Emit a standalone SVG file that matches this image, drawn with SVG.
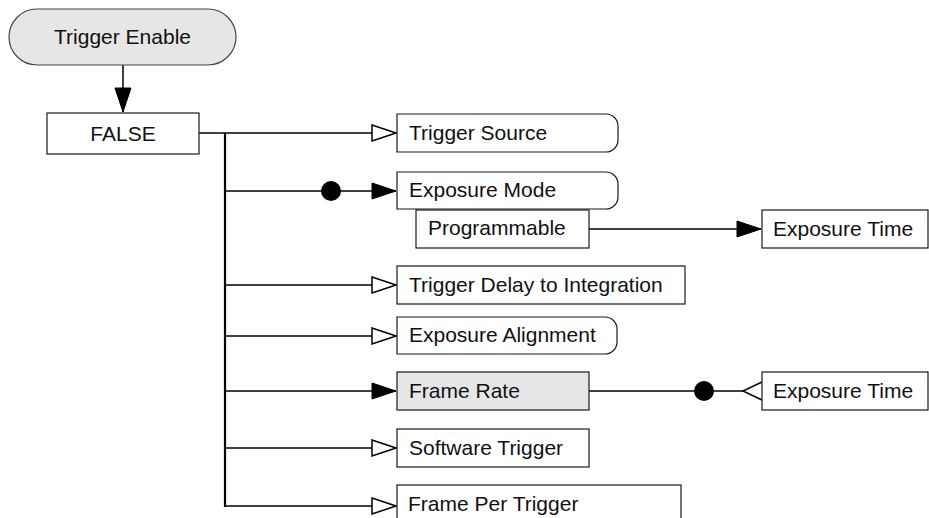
<svg xmlns="http://www.w3.org/2000/svg" width="929" height="518" viewBox="0 0 929 518">
<style>
.box{fill:#fff;stroke:#1a1a1a;stroke-width:1.2}
.gray{fill:#e6e6e6}
.t{font-family:"Liberation Sans",Arial,sans-serif;font-size:21px;fill:#111}
.c{text-anchor:middle}
.ln{stroke:#000;stroke-width:1.5;fill:none}
.trunk{stroke:#000;stroke-width:2.2;fill:none}
.open{fill:#fff;stroke:#000;stroke-width:1.5}
.fill{fill:#000;stroke:#000;stroke-width:1}
</style>
<defs>
<marker id="openArr" viewBox="0 0 26 18" refX="25" refY="9" markerWidth="26" markerHeight="18" markerUnits="userSpaceOnUse" orient="auto">
<path d="M1,1 L25,9 L1,17 Z" class="open"/>
</marker>
<marker id="fillArr" viewBox="0 0 26 18" refX="25" refY="9" markerWidth="26" markerHeight="18" markerUnits="userSpaceOnUse" orient="auto">
<path d="M1,1 L25,9 L1,17 Z" class="fill"/>
</marker>
</defs>

<g id="connectors">
<line class="ln" x1="123" y1="65" x2="123" y2="112" marker-end="url(#fillArr)"/>
<line class="ln" x1="199" y1="133" x2="396" y2="133" marker-end="url(#openArr)"/>
<line class="trunk" x1="225" y1="133" x2="225" y2="507"/>
<line class="ln" x1="225" y1="191" x2="396" y2="191" marker-end="url(#fillArr)"/>
<circle cx="331" cy="191" r="10" fill="#000"/>
<line class="ln" x1="589" y1="229" x2="761" y2="229" marker-end="url(#fillArr)"/>
<line class="ln" x1="225" y1="285" x2="396" y2="285" marker-end="url(#openArr)"/>
<line class="ln" x1="225" y1="336" x2="396" y2="336" marker-end="url(#openArr)"/>
<line class="ln" x1="225" y1="391" x2="396" y2="391" marker-end="url(#fillArr)"/>
<line class="ln" x1="589" y1="391" x2="743" y2="391"/>
<circle cx="704" cy="391" r="10" fill="#000"/>
<path class="ln" d="M762,382 L743,391 L762,400"/>
<line class="ln" x1="225" y1="448" x2="396" y2="448" marker-end="url(#openArr)"/>
<line class="ln" x1="225" y1="506" x2="396" y2="506" marker-end="url(#openArr)"/>
</g>

<g id="trigger-enable">
<rect x="9" y="9" width="227" height="56" rx="28" ry="28" class="box gray" style="stroke:#444"/>
<text class="t c" x="122.5" y="44">Trigger Enable</text>
</g>

<g id="false">
<rect x="47" y="113" width="152" height="41" class="box"/>
<text class="t c" x="123" y="141">FALSE</text>
</g>

<g id="trigger-source">
<path class="box" d="M397,114 H606 A12,12 0 0 1 618,126 V140 A12,12 0 0 1 606,152 H397 Z"/>
<text class="t" x="409" y="140">Trigger Source</text>
</g>

<g id="exposure-mode">
<path class="box" d="M397,172 H606 A12,12 0 0 1 618,184 V197 A12,12 0 0 1 606,209 H397 Z"/>
<text class="t" x="409" y="197">Exposure Mode</text>
</g>

<g id="programmable">
<rect x="416" y="210" width="173" height="38" class="box"/>
<text class="t" x="428" y="235">Programmable</text>
</g>

<g id="exposure-time-1">
<rect x="762" y="210" width="166" height="38" class="box"/>
<text class="t" x="773" y="236">Exposure Time</text>
</g>

<g id="trigger-delay">
<rect x="397" y="266" width="288" height="38" class="box"/>
<text class="t" x="409" y="292">Trigger Delay to Integration</text>
</g>

<g id="exposure-alignment">
<path class="box" d="M397,317 H605 A12,12 0 0 1 617,329 V342 A12,12 0 0 1 605,354 H397 Z"/>
<text class="t" x="409" y="342">Exposure Alignment</text>
</g>

<g id="frame-rate">
<rect x="397" y="372" width="192" height="38" class="box gray"/>
<text class="t" x="409" y="398">Frame Rate</text>
</g>

<g id="exposure-time-2">
<rect x="762" y="372" width="166" height="38" class="box"/>
<text class="t" x="773" y="398">Exposure Time</text>
</g>

<g id="software-trigger">
<rect x="397" y="429" width="192" height="38" class="box"/>
<text class="t" x="409" y="455">Software Trigger</text>
</g>

<g id="frame-per-trigger">
<rect x="397" y="485" width="284" height="45" class="box"/>
<text class="t" x="408" y="511">Frame Per Trigger</text>
</g>
</svg>
